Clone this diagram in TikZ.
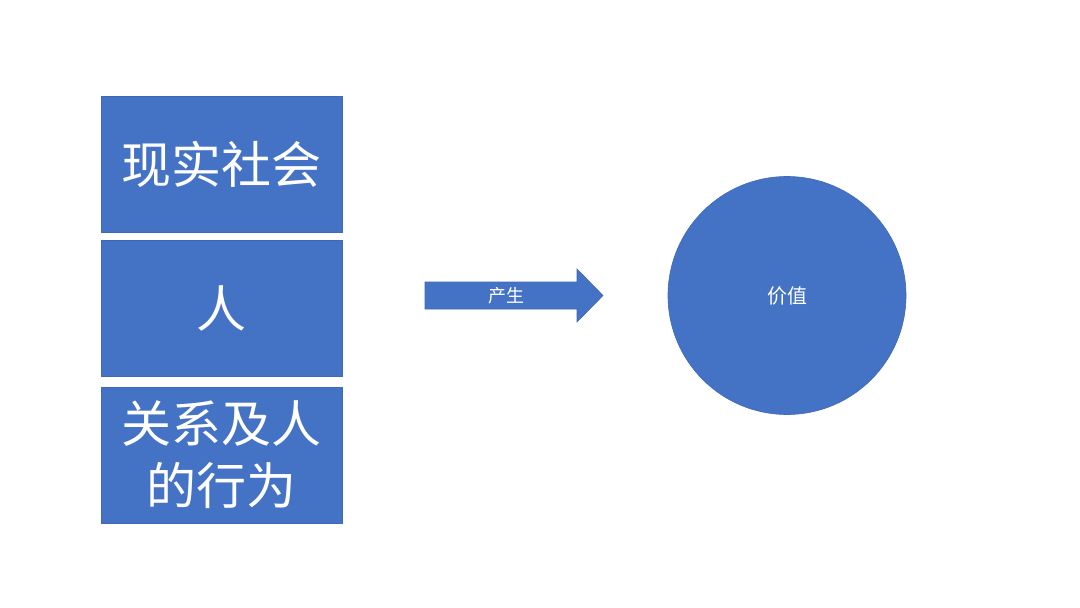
\documentclass[tikz,border=0pt]{standalone}
\usepackage{fontspec}
\newfontfamily\cjk{Noto Sans CJK SC}
\definecolor{officeblue}{HTML}{4472C4}
\definecolor{officeedge}{HTML}{3F69B5}
\usetikzlibrary{positioning}
\tikzset{
  bigbox/.style={rectangle, fill=officeblue, draw=officeedge, line width=0.6pt,
    minimum width=241pt, minimum height=136pt, inner sep=0pt,
    text=white, align=center, font=\cjk\fontsize{50}{62}\selectfont},
  arrowshape/.style={fill=officeblue, draw=officeedge, line width=0.6pt},
  smalltext/.style={text=white, inner sep=0pt, font=\cjk\fontsize{18}{20}\selectfont},
  valuecircle/.style={circle, fill=officeblue, draw=officeedge, line width=0.6pt,
    minimum size=238pt, inner sep=0pt, text=white, font=\cjk\fontsize{20}{22}\selectfont}
}
\begin{document}
\begin{tikzpicture}[x=1pt, y=-1pt]
\useasboundingbox[fill=white] (0,0) rectangle (1080,608);
\node[bigbox] (b1) at (221.5,164) {现实社会};
\node[bigbox] (b2) at (221.5,308.5) {人};
\node[bigbox] (b3) at (221.5,455) {关系及人\\的行为};
\fill[arrowshape] (425,282) -- (577,282) -- (577,269) -- (603,295.5) -- (577,322) -- (577,309) -- (425,309) -- cycle;
\node[smalltext] (arrowlabel) at (506,295.5) {产生};
\node[valuecircle] (value) at (787,295.5) {价值};
\end{tikzpicture}
\end{document}
